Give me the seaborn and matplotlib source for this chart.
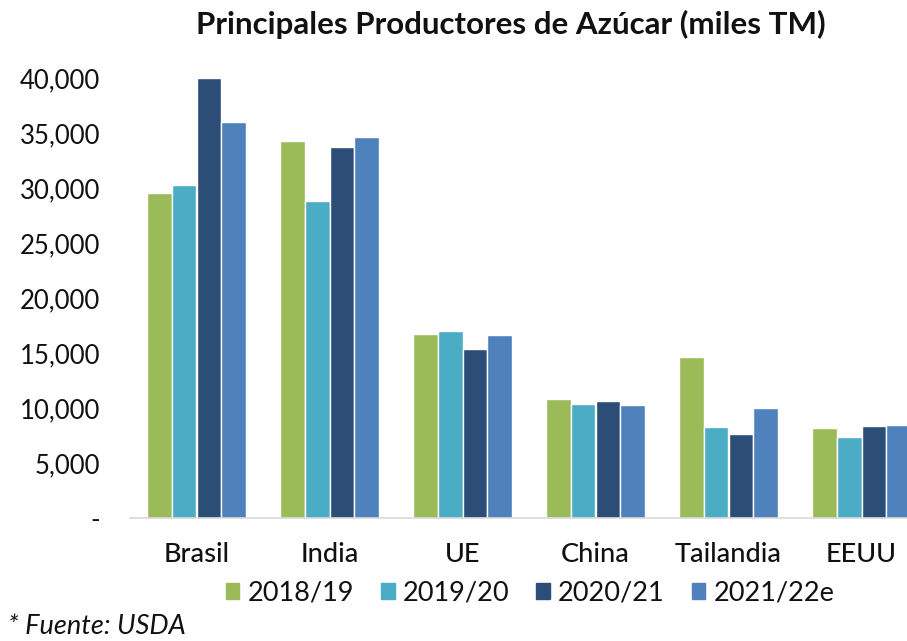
import matplotlib
matplotlib.use("Agg")
import matplotlib.pyplot as plt
import seaborn as sns
import pandas as pd
from matplotlib.ticker import FuncFormatter

categories = ["Brasil", "India", "UE", "China", "Tailandia", "EEUU"]
series = ["2018/19", "2019/20", "2020/21", "2021/22e"]
v2018 = [29500, 34300, 16750, 10800, 14600, 8200]
v2019 = [30300, 28800, 17000, 10400, 8300, 7400]
v2020 = [40000, 33700, 15400, 10600, 7600, 8400]
v2021 = [36000, 34600, 16600, 10300, 10000, 8500]
colors = ["#9BBB59", "#4BACC6", "#2C4D75", "#4F81BD"]

rows = []
for s, vals in zip(series, [v2018, v2019, v2020, v2021]):
    for c, v in zip(categories, vals):
        rows.append({"Pais": c, "Serie": s, "Valor": v})
df = pd.DataFrame(rows)

sns.set_theme(style="white")
plt.rcParams["font.family"] = ["Lato", "DejaVu Sans"]

fig = plt.figure(figsize=(9.07, 6.41), dpi=100)
ax = fig.add_axes([130/907, 123/641, 798/907, 451/641])
sns.barplot(data=df, x="Pais", y="Valor", hue="Serie", palette=colors,
            order=categories, hue_order=series, width=0.74, gap=0,
            saturation=1, ax=ax, legend=True)
ax.set_xlim(-0.5, 5.5)
ax.set_ylim(0, 41000)
ax.set_yticks(range(0, 40001, 5000))
ax.yaxis.set_major_formatter(FuncFormatter(lambda v, p: "-" if v == 0 else f"{int(v):,}"))
ax.set_xlabel("")
ax.set_ylabel("")
for s in ["top", "right", "left"]:
    ax.spines[s].set_visible(False)
ax.spines["bottom"].set_color("#D9D9D9")
ax.spines["bottom"].set_linewidth(1.2)
ax.tick_params(axis="y", length=0, pad=21.5, labelsize=18.5, labelcolor="#111111")
ax.tick_params(axis="x", length=0, pad=17, labelsize=19.5, labelcolor="#111111")
for lbl in ax.get_xticklabels():
    lbl.set_fontweight("medium")

ax.legend_.remove()
handles = [plt.Rectangle((0, 0), 1, 1, color=c) for c in colors]
fig.legend(handles, series, loc="center", bbox_to_anchor=(530/907, 1 - 593/641),
           ncol=4, frameon=False, fontsize=19.5, handlelength=0.5, handleheight=0.5,
           handletextpad=0.3, columnspacing=1.0, labelcolor="#111111")

fig.text(511/907, 1 - 24/641, "Principales Productores de Azúcar (miles TM)",
         ha="center", va="center", fontsize=22.5, fontweight="bold", color="#111111")
fig.text(8/907, 1 - 626/641, "* Fuente: USDA", ha="left", va="center",
         fontsize=19.5, style="italic", color="#111111")

fig.savefig("out.png", dpi=100)
